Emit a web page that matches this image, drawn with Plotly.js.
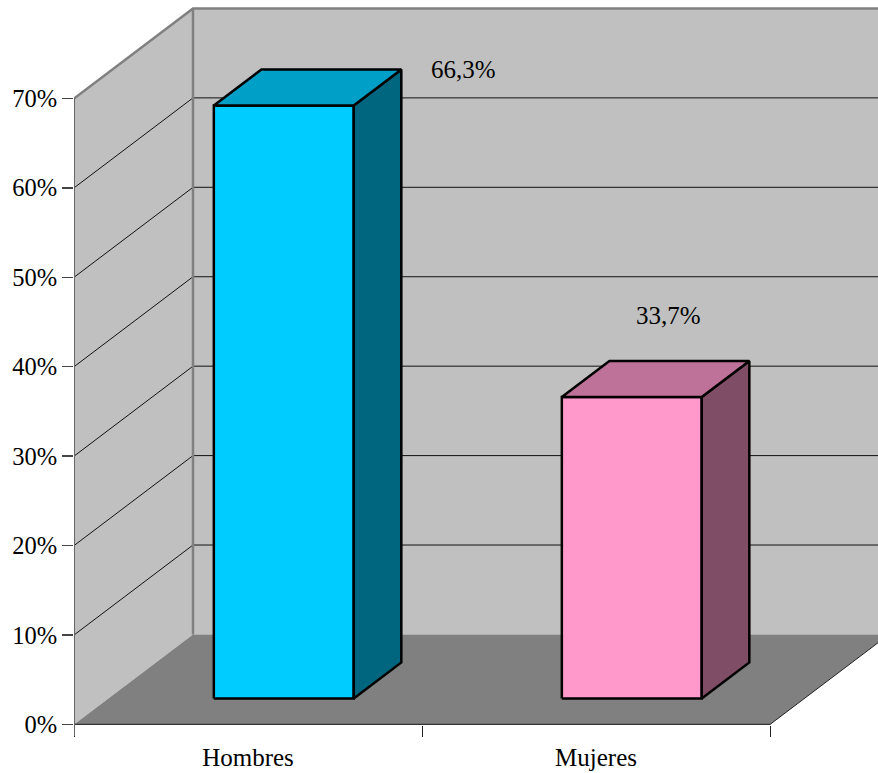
<!DOCTYPE html>
<html>
<head>
<meta charset="utf-8">
<script src="https://cdn.plot.ly/plotly-3.0.1.min.js"></script>
<style>html,body{margin:0;padding:0;background:#fff}#chart{width:878px;height:773px}</style>
</head>
<body>
<div id="chart"></div>
<script>
const categories = ['Hombres', 'Mujeres'];
const values = [66.3, 33.7];
const valueLabels = ['66,3%', '33,7%'];
const yTicks = [0, 10, 20, 30, 40, 50, 60, 70];
const yTickLabels = ['0%', '10%', '20%', '30%', '40%', '50%', '60%', '70%'];

// Projection of the fake 3D box, in axis units
const depthX = 119 / 348, depthY = 90 / 8.943;
const yMax = 70;
const wallRight = categories.length;
const project = (x, y, d) => [x + d * depthX, y + d * depthY];

const faceColors = [
  {front: '#00ccff', top: '#009fc8', side: '#006680'},
  {front: '#ff99cc', top: '#bf7299', side: '#804d66'}
];
const barFrontDepth = 0.289, barBackDepth = 0.689, barStart = 0.303, barWidth = 0.402;

function poly(points, fill, lineColor, lineWidth) {
  const xs = points.map(p => p[0]), ys = points.map(p => p[1]);
  xs.push(xs[0]); ys.push(ys[0]);
  return {x: xs, y: ys, type: 'scatter', mode: lineWidth ? 'lines' : 'none', fill: 'toself',
    fillcolor: fill, line: {color: lineColor || fill, width: lineWidth || 0, simplify: false},
    hoverinfo: 'skip', showlegend: false};
}
function segs(list, color, width) {
  const xs = [], ys = [];
  list.forEach(s => { s.forEach(p => { xs.push(p[0]); ys.push(p[1]); }); xs.push(null); ys.push(null); });
  return {x: xs, y: ys, type: 'scatter', mode: 'lines', line: {color: color, width: width},
    hoverinfo: 'skip', showlegend: false};
}

const traces = [];
// walls
traces.push(poly([project(0,0,0), project(0,0,1), project(0,yMax,1), project(0,yMax,0)], '#c0c0c0'));
traces.push(poly([project(0,0,1), project(wallRight,0,1), project(wallRight,yMax,1), project(0,yMax,1)], '#c0c0c0'));
// floor
traces.push(poly([project(0,0,0), project(wallRight,0,0), project(wallRight,0,1), project(0,0,1)], '#808080'));
// gridlines
const grid = [];
yTicks.filter(t => t > 0 && t < yMax).forEach(t => {
  grid.push([project(0,t,0), project(0,t,1), project(wallRight,t,1)]);
});
traces.push(segs(grid, '#111111', 1));
// wall edges
traces.push(segs([
  [project(0,yMax,0), project(0,yMax,1), project(wallRight,yMax,1)],
  [project(0,0,1), project(0,yMax,1)]
], '#808080', 2.5));
// floor right edge
traces.push(segs([[project(wallRight,0,0), project(wallRight,0,1)]], '#222222', 1));
// floor front edge
traces.push(segs([[project(0,0,0), project(wallRight,0,0)]], '#333333', 1.5));

// bars
values.forEach((v, i) => {
  const x0 = i + barStart, x1 = x0 + barWidth;
  const c = faceColors[i];
  const a = barFrontDepth, b = barBackDepth;
  traces.push(poly([project(x0,0,a), project(x1,0,a), project(x1,v,a), project(x0,v,a)], c.front, '#000', 2.5));
  traces.push(poly([project(x1,0,a), project(x1,0,b), project(x1,v,b), project(x1,v,a)], c.side, '#000', 2.5));
  traces.push(poly([project(x0,v,a), project(x1,v,a), project(x1,v,b), project(x0,v,b)], c.top, '#000', 2.5));
});

const family = '"Liberation Serif", "Times New Roman", serif';
const yFont = {family: family, size: 24.5, color: '#000'};
const textFont = {family: family, size: 25, color: '#000'};
const labelAnchors = [[1.12, 73.2], [1.707, 45.7]];

const layout = {
  width: 878, height: 773,
  margin: {l: 74, r: 0, t: 0, b: 48, pad: 0},
  paper_bgcolor: '#ffffff', plot_bgcolor: 'rgba(0,0,0,0)',
  showlegend: false,
  font: textFont,
  xaxis: {
    range: [0, 804 / 348], showgrid: false, zeroline: false, fixedrange: true,
    tickmode: 'array', tickvals: [0.5, 1.5], ticktext: categories,
    ticks: 'outside', ticklen: 0, tickfont: textFont, ticklabelstandoff: 10,
    showline: false,
    minor: {tickmode: 'array', tickvals: [0, 1, 2], ticks: 'outside', ticklen: 11, tickwidth: 1, tickcolor: '#222222', showgrid: false}
  },
  yaxis: {
    range: [-0.06, 725 / 8.943 - 0.06], showgrid: false, zeroline: false, fixedrange: true,
    tickmode: 'array', tickvals: yTicks, ticktext: yTickLabels,
    ticks: 'outside', ticklen: 11, tickwidth: 1.5, tickcolor: '#444444', tickfont: yFont, ticklabelstandoff: 0,
    showline: false
  },
  annotations: valueLabels.map((t, i) => ({
    text: t, x: labelAnchors[i][0], y: labelAnchors[i][1], xref: 'x', yref: 'y',
    showarrow: false, font: textFont, xanchor: 'center', yanchor: 'middle'
  })),
  shapes: [{type: 'line', xref: 'x', yref: 'paper', x0: 0, x1: 0, y0: -0.015, y1: 1 - 98 / 725, line: {color: '#666666', width: 2}, layer: 'above'}]
};
Plotly.newPlot('chart', traces, layout, {displayModeBar: false, staticPlot: true});
</script>
</body>
</html>
